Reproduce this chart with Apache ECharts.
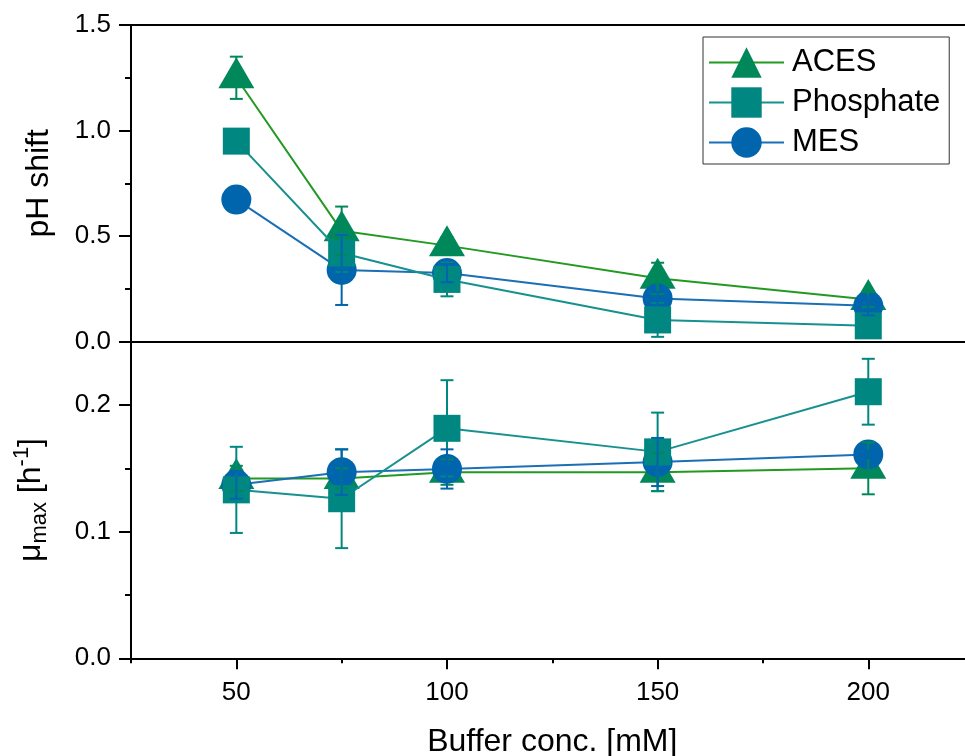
<!DOCTYPE html>
<html>
<head>
<meta charset="utf-8">
<title>Buffer concentration: pH shift and growth rate</title>
<script src="https://cdn.jsdelivr.net/npm/echarts@6/dist/echarts.min.js"></script>
<style>
  html, body { margin: 0; padding: 0; background: #ffffff; }
  #chart { width: 965px; height: 756px; }
</style>
</head>
<body>
<div id="chart"></div>
<script>
// Buffer concentrations [mM]
const concentrations = [50, 75, 100, 150, 200];
const seriesNames = ['ACES', 'Phosphate', 'MES'];

// pH shift (mean and error) per buffer
const phShiftAces = [1.25, 0.525, 0.455, 0.30, 0.20];
const phShiftAcesErr = [0.10, 0.115, 0.04, 0.074, 0.035];
const phShiftPhosphate = [0.95, 0.42, 0.295, 0.103, 0.075];
const phShiftPhosphateErr = [0.02, 0.09, 0.08, 0.08, 0.05];
const phShiftMes = [0.673, 0.34, 0.325, 0.205, 0.17];
const phShiftMesErr = [0.02, 0.166, 0.043, 0.03, 0.045];

// maximum growth rate mu_max [1/h] (mean and error) per buffer
const muMaxAces = [0.142, 0.142, 0.147, 0.147, 0.150];
const muMaxAcesErr = [0.01, 0.008, 0.01, 0.015, 0.0205];
const muMaxPhosphate = [0.133, 0.126, 0.1816, 0.163, 0.2105];
const muMaxPhosphateErr = [0.034, 0.039, 0.038, 0.031, 0.026];
const muMaxMes = [0.137, 0.147, 0.1495, 0.155, 0.161];
const muMaxMesErr = [0.011, 0.018, 0.0155, 0.019, 0.003];

// tick positions
const xMajorTicks = [50, 100, 150, 200];
const xMinorTicks = [25, 75, 125, 175];
const muMajorTicks = [0, 0.1, 0.2];
const muMinorTicks = [0.05, 0.15];

const X_MIN = 25;
const X_MAX = 225;

const FONT = "'Liberation Sans', Arial, sans-serif";
const AXIS_COLOR = '#000000';

const styles = {
  ACES: { marker: '#00885B', line: '#229A22', symbol: 'triangle', size: [36, 31], offset: [0, -5] },
  Phosphate: { marker: '#008781', line: '#16918F', symbol: 'rect', size: 27, offset: [0, 0] },
  MES: { marker: '#0065AC', line: '#1B6FB5', symbol: 'circle', size: 30, offset: [0, 0] }
};

function pairs(xs, ys) { return xs.map((x, i) => [x, ys[i]]); }
function errTriples(xs, ys, es) { return xs.map((x, i) => [x, ys[i], es[i]]); }

function lineSeries(name, values, xIdx, yIdx, z) {
  const s = styles[name];
  return {
    type: 'line', name: name,
    xAxisIndex: xIdx, yAxisIndex: yIdx,
    data: pairs(concentrations, values),
    symbol: s.symbol, symbolSize: s.size, symbolOffset: s.offset,
    itemStyle: { color: s.marker, opacity: 1 },
    lineStyle: { color: s.line, width: 2 },
    emphasis: { disabled: true },
    animation: false, clip: false, z: z
  };
}

function errorSeries(name, values, errs, xIdx, yIdx) {
  const color = styles[name].marker;
  return {
    type: 'custom', name: name + ' error',
    xAxisIndex: xIdx, yAxisIndex: yIdx,
    data: errTriples(concentrations, values, errs),
    encode: { x: 0, y: 1 },
    z: 10, animation: false, silent: true, clip: false,
    renderItem: function (params, api) {
      const x = api.value(0), y = api.value(1), e = api.value(2);
      const hi = api.coord([x, y + e]);
      const lo = api.coord([x, y - e]);
      const cap = 6.5;
      const st = { stroke: color, lineWidth: 2 };
      return {
        type: 'group',
        children: [
          { type: 'line', shape: { x1: hi[0], y1: hi[1], x2: lo[0], y2: lo[1] }, style: st },
          { type: 'line', shape: { x1: hi[0] - cap, y1: hi[1], x2: hi[0] + cap, y2: hi[1] }, style: st },
          { type: 'line', shape: { x1: lo[0] - cap, y1: lo[1], x2: lo[0] + cap, y2: lo[1] }, style: st }
        ]
      };
    }
  };
}

const axisLineStyle = { show: true, onZero: false, lineStyle: { color: AXIS_COLOR, width: 2 } };

const chart = echarts.init(document.getElementById('chart'), null, { renderer: 'canvas' });

const option = {
  backgroundColor: '#ffffff',
  textStyle: { fontFamily: FONT },
  animation: false,
  grid: [
    { left: 131, top: 25, width: 842.6, height: 316.7, containLabel: false, outerBoundsMode: 'none' },
    { left: 131, top: 341.7, width: 842.6, height: 316.6, containLabel: false, outerBoundsMode: 'none' }
  ],
  legend: {
    data: seriesNames,
    orient: 'vertical',
    left: 703, top: 37,
    itemWidth: 75, itemHeight: 38, itemGap: 9,
    padding: [10, 9, 6, 5],
    borderColor: '#333333', borderWidth: 1, borderRadius: 0,
    backgroundColor: '#ffffff',
    textStyle: { fontSize: 31, color: '#000000', fontFamily: FONT, padding: [0, 0, 0, 3] },
    selectedMode: false
  },
  xAxis: [
    // top panel: bottom border line
    { type: 'value', gridIndex: 0, min: X_MIN, max: X_MAX, position: 'bottom',
      axisLine: axisLineStyle, axisTick: { show: false }, axisLabel: { show: false }, splitLine: { show: false } },
    // top panel: top border line
    { type: 'value', gridIndex: 0, min: X_MIN, max: X_MAX, position: 'top',
      axisLine: axisLineStyle, axisTick: { show: false }, axisLabel: { show: false }, splitLine: { show: false } },
    // bottom panel: labelled x axis with major ticks
    { type: 'value', gridIndex: 1, min: X_MIN, max: X_MAX, position: 'bottom',
      axisLine: axisLineStyle,
      axisTick: { show: true, inside: false, length: 11, customValues: xMajorTicks, lineStyle: { color: AXIS_COLOR, width: 2 } },
      axisLabel: { show: true, customValues: xMajorTicks, fontSize: 26, color: '#000000', margin: 22, fontFamily: FONT },
      splitLine: { show: false },
      name: 'Buffer conc. [mM]', nameLocation: 'middle', nameGap: 68,
      nameTextStyle: { fontSize: 32, color: '#000000', fontFamily: FONT } },
    // bottom panel: minor x ticks
    { type: 'value', gridIndex: 1, min: X_MIN, max: X_MAX, position: 'bottom',
      axisLine: { show: false },
      axisTick: { show: true, inside: false, length: 5, customValues: xMinorTicks, lineStyle: { color: AXIS_COLOR, width: 2 } },
      axisLabel: { show: false }, splitLine: { show: false } }
  ],
  yAxis: [
    { type: 'value', gridIndex: 0, min: 0, max: 1.5, interval: 0.5, position: 'left',
      axisLine: axisLineStyle,
      axisTick: { show: true, inside: false, length: 12, lineStyle: { color: AXIS_COLOR, width: 2 } },
      minorTick: { show: true, splitNumber: 2, length: 6, lineStyle: { color: AXIS_COLOR, width: 2 } },
      axisLabel: { fontSize: 26, color: '#000000', margin: 20, fontFamily: FONT,
        formatter: v => v.toFixed(1) },
      splitLine: { show: false }, minorSplitLine: { show: false },
      name: 'pH shift', nameLocation: 'middle', nameGap: 76, nameRotate: 90,
      nameTextStyle: { fontSize: 32, color: '#000000', fontFamily: FONT } },
    { type: 'value', gridIndex: 1, min: 0, max: 0.25, position: 'left',
      axisLine: axisLineStyle,
      axisTick: { show: true, inside: false, length: 12, customValues: muMajorTicks, lineStyle: { color: AXIS_COLOR, width: 2 } },
      axisLabel: { customValues: muMajorTicks, fontSize: 26, color: '#000000', margin: 20, fontFamily: FONT,
        formatter: v => v.toFixed(1) },
      splitLine: { show: false },
      name: '{m|μ}{sub|max}{m| [h}{sup|-1}{m|]}', nameLocation: 'middle', nameGap: 80, nameRotate: 90,
      nameTextStyle: {
        fontSize: 32, color: '#000000', fontFamily: FONT,
        rich: {
          m: { fontSize: 32, lineHeight: 40, fontFamily: FONT, color: '#000000' },
          sub: { fontSize: 22, lineHeight: 40, verticalAlign: 'bottom', fontFamily: FONT, color: '#000000', padding: [10, 0, 0, 0] },
          sup: { fontSize: 22, lineHeight: 40, verticalAlign: 'top', fontFamily: FONT, color: '#000000', padding: [0, 0, 12, 0] }
        }
      } },
    { type: 'value', gridIndex: 1, min: 0, max: 0.25, position: 'left',
      axisLine: { show: false },
      axisTick: { show: true, inside: false, length: 6, customValues: muMinorTicks, lineStyle: { color: AXIS_COLOR, width: 2 } },
      axisLabel: { show: false }, splitLine: { show: false } }
  ],
  series: [
    lineSeries('ACES', phShiftAces, 0, 0, 2),
    lineSeries('MES', phShiftMes, 0, 0, 3),
    lineSeries('Phosphate', phShiftPhosphate, 0, 0, 4),
    errorSeries('ACES', phShiftAces, phShiftAcesErr, 0, 0),
    errorSeries('Phosphate', phShiftPhosphate, phShiftPhosphateErr, 0, 0),
    errorSeries('MES', phShiftMes, phShiftMesErr, 0, 0),

    lineSeries('ACES', muMaxAces, 2, 1, 2),
    lineSeries('MES', muMaxMes, 2, 1, 3),
    lineSeries('Phosphate', muMaxPhosphate, 2, 1, 4),
    errorSeries('ACES', muMaxAces, muMaxAcesErr, 2, 1),
    errorSeries('Phosphate', muMaxPhosphate, muMaxPhosphateErr, 2, 1),
    errorSeries('MES', muMaxMes, muMaxMesErr, 2, 1)
  ]
};

chart.setOption(option);
</script>
</body>
</html>
